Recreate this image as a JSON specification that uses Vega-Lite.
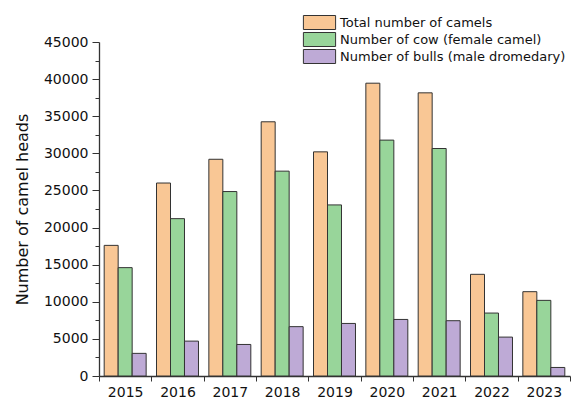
{
  "$schema": "https://vega.github.io/schema/vega-lite/v6.json",
  "width": 471,
  "height": 334,
  "autosize": {"type": "none"},
  "padding": {"left": 99, "top": 42, "right": 2, "bottom": 24},
  "background": "white",
  "config": {
    "font": "DejaVu Sans",
    "view": {"stroke": null}
  },
  "data": {
    "values": [
      {"year": "2015", "series": "Total number of camels", "value": 17600},
      {"year": "2015", "series": "Number of cow (female camel)", "value": 14600},
      {"year": "2015", "series": "Number of bulls (male dromedary)", "value": 3050},
      {"year": "2016", "series": "Total number of camels", "value": 26000},
      {"year": "2016", "series": "Number of cow (female camel)", "value": 21200},
      {"year": "2016", "series": "Number of bulls (male dromedary)", "value": 4700},
      {"year": "2017", "series": "Total number of camels", "value": 29200},
      {"year": "2017", "series": "Number of cow (female camel)", "value": 24850},
      {"year": "2017", "series": "Number of bulls (male dromedary)", "value": 4250},
      {"year": "2018", "series": "Total number of camels", "value": 34250},
      {"year": "2018", "series": "Number of cow (female camel)", "value": 27600},
      {"year": "2018", "series": "Number of bulls (male dromedary)", "value": 6650},
      {"year": "2019", "series": "Total number of camels", "value": 30200},
      {"year": "2019", "series": "Number of cow (female camel)", "value": 23050},
      {"year": "2019", "series": "Number of bulls (male dromedary)", "value": 7080},
      {"year": "2020", "series": "Total number of camels", "value": 39450},
      {"year": "2020", "series": "Number of cow (female camel)", "value": 31780},
      {"year": "2020", "series": "Number of bulls (male dromedary)", "value": 7620},
      {"year": "2021", "series": "Total number of camels", "value": 38150},
      {"year": "2021", "series": "Number of cow (female camel)", "value": 30650},
      {"year": "2021", "series": "Number of bulls (male dromedary)", "value": 7450},
      {"year": "2022", "series": "Total number of camels", "value": 13700},
      {"year": "2022", "series": "Number of cow (female camel)", "value": 8480},
      {"year": "2022", "series": "Number of bulls (male dromedary)", "value": 5240},
      {"year": "2023", "series": "Total number of camels", "value": 11360},
      {"year": "2023", "series": "Number of cow (female camel)", "value": 10190},
      {"year": "2023", "series": "Number of bulls (male dromedary)", "value": 1150}
    ]
  },
  "mark": {"type": "bar", "stroke": "#333333", "strokeWidth": 1},
  "encoding": {
    "x": {
      "field": "year",
      "type": "nominal",
      "scale": {"paddingInner": 0, "paddingOuter": 0},
      "axis": {
        "title": null,
        "labelAngle": 0,
        "labelFontSize": 14,
        "labelColor": "#111111",
        "labelPadding": 4,
        "tickBand": "extent",
        "tickSize": 5,
        "tickColor": "#333333",
        "domainColor": "#333333",
        "domainWidth": 1.3
      }
    },
    "xOffset": {
      "field": "series",
      "type": "nominal",
      "sort": ["Total number of camels", "Number of cow (female camel)", "Number of bulls (male dromedary)"],
      "scale": {"paddingInner": 0, "paddingOuter": 0.37}
    },
    "y": {
      "field": "value",
      "type": "quantitative",
      "scale": {"domain": [0, 45000], "nice": false},
      "axis": {
        "title": "Number of camel heads",
        "titleFontSize": 16,
        "titleFontWeight": "normal",
        "titleColor": "#111111",
        "titlePadding": 13,
        "values": [0, 2500, 5000, 7500, 10000, 12500, 15000, 17500, 20000, 22500, 25000, 27500, 30000, 32500, 35000, 37500, 40000, 42500, 45000],
        "format": "d",
        "labelExpr": "datum.value % 5000 === 0 ? datum.label : ''",
        "labelFontSize": 14,
        "labelColor": "#111111",
        "labelPadding": 4,
        "tickSize": {"condition": {"test": "datum.value % 5000 === 0", "value": 7}, "value": 4},
        "tickColor": "#333333",
        "domainColor": "#333333",
        "domainWidth": 1.3,
        "grid": false
      }
    },
    "color": {
      "field": "series",
      "type": "nominal",
      "scale": {
        "domain": ["Total number of camels", "Number of cow (female camel)", "Number of bulls (male dromedary)"],
        "range": ["#F9C795", "#98D59A", "#BEAAD6"]
      },
      "legend": {
        "title": null,
        "orient": "none",
        "legendX": 213,
        "legendY": -27,
        "padding": 0,
        "symbolType": "M-2.3,-1H2.3V1H-2.3Z",
        "symbolSize": 196,
        "symbolStrokeColor": "#333333",
        "symbolStrokeWidth": 1,
        "symbolOpacity": 1,
        "labelFontSize": 13,
        "labelColor": "#111111",
        "labelOffset": 13,
        "labelLimit": 400,
        "rowPadding": -2
      }
    }
  }
}
